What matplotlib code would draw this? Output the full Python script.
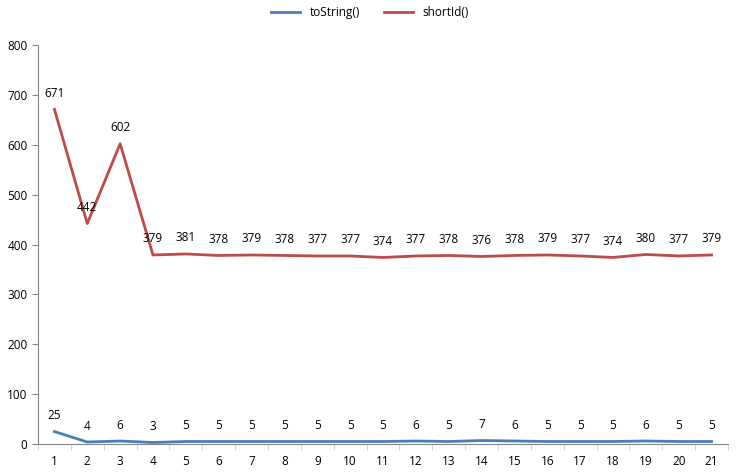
import matplotlib
matplotlib.use("Agg")
import matplotlib.pyplot as plt
import numpy as np

x = list(range(1, 22))
tostring = [25, 4, 6, 3, 5, 5, 5, 5, 5, 5, 5, 6, 5, 7, 6, 5, 5, 5, 6, 5, 5]
shortid = [671, 442, 602, 379, 381, 378, 379, 378, 377, 377, 374, 377, 378, 376, 378, 379, 377, 374, 380, 377, 379]

plt.rcParams['font.family'] = ['Open Sans', 'DejaVu Sans']
fig = plt.figure(figsize=(7.4, 4.76), dpi=100)
ax = fig.add_axes([38/740, 1-444/476, 690/740, 399/476])
ax.plot(x, tostring, color='#4a7ebb', lw=2.0, label='toString()')
ax.plot(x, shortid, color='#be4b48', lw=2.0, label='shortId()')
for xi, v in zip(x, tostring):
    ax.annotate(str(v), (xi, v), xytext=(0, 9), textcoords='offset points', ha='center', fontsize=8.5)
for xi, v in zip(x, shortid):
    ax.annotate(str(v), (xi, v), xytext=(0, 9), textcoords='offset points', ha='center', fontsize=8.5)
ax.set_xlim(0.5, 21.5)
ax.set_ylim(0, 800)
ax.set_yticks(range(0, 801, 100))
ax.set_xticks(x)
ax.set_xticks(np.arange(0.5, 21.6, 1), minor=True)
ax.tick_params(labelsize=8.5, length=4, color='#868686')
ax.tick_params(axis='x', which='major', length=0, pad=8)
ax.tick_params(axis='x', which='minor', length=4, color='#d0d0d0')
for s in ['top', 'right']:
    ax.spines[s].set_visible(False)
for s in ['left', 'bottom']:
    ax.spines[s].set_color('#868686')
fig.legend(loc='upper center', bbox_to_anchor=(0.5, 1.01), ncol=2, frameon=False, fontsize=8.5, handlelength=2.5)
fig.savefig('out.png', dpi=100)
